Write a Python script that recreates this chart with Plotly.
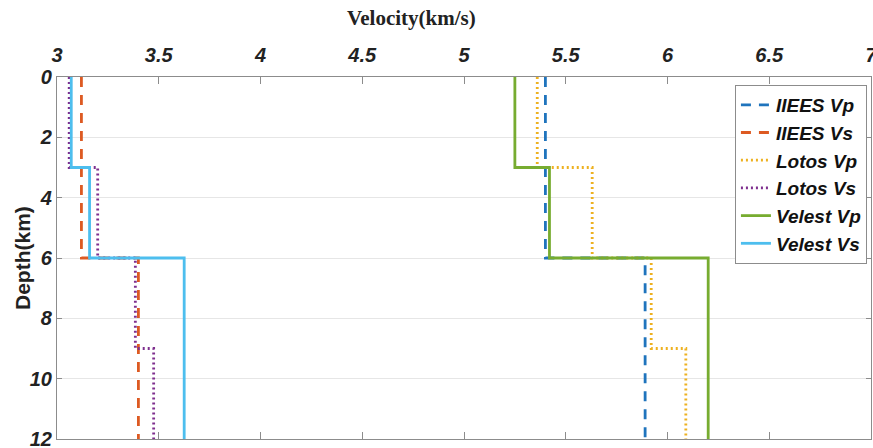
import plotly.graph_objects as go

# Layer boundaries (km) and layer velocities (km/s) for each 1-D model
iiees_depths = [0, 6, 12]
iiees_vp = [5.40, 5.89]
iiees_vs = [3.12, 3.40]

lotos_depths = [0, 3, 6, 9, 12]
lotos_vp = [5.36, 5.63, 5.92, 6.09]
lotos_vs = [3.06, 3.20, 3.385, 3.475]

velest_depths = [0, 3, 6, 12]
velest_vp = [5.25, 5.42, 6.20]
velest_vs = [3.07, 3.16, 3.625]

x_ticks = [3, 3.5, 4, 4.5, 5, 5.5, 6, 6.5, 7]
x_tick_text = ["3", "3.5", "4", "4.5", "5", "5.5", "6", "6.5", "7"]
y_ticks = [0, 2, 4, 6, 8, 10, 12]

TICK_FONT = "Liberation Sans Narrow, Arial Narrow, Liberation Sans, Arial, sans-serif"


def step_profile(depths, velocities):
    """Turn layer tops/bottoms and layer velocities into a staircase profile."""
    xs, ys = [], []
    for i, v in enumerate(velocities):
        xs += [v, v]
        ys += [depths[i], depths[i + 1]]
    return xs, ys


series = [
    ("IIEES Vp", iiees_depths, iiees_vp, "#1f74bd", "10px,8px"),
    ("IIEES Vs", iiees_depths, iiees_vs, "#dd5a22", "10px,8px"),
    ("Lotos Vp", lotos_depths, lotos_vp, "#edb120", "2px,3px"),
    ("Lotos Vs", lotos_depths, lotos_vs, "#7e2f8e", "2px,3px"),
    ("Velest Vp", velest_depths, velest_vp, "#77ac30", "solid"),
    ("Velest Vs", velest_depths, velest_vs, "#4dbeee", "solid"),
]

fig = go.Figure()
for name, depths, vel, color, dash in series:
    xs, ys = step_profile(depths, vel)
    fig.add_trace(go.Scatter(
        x=xs, y=ys, mode="lines", name=name,
        line=dict(color=color, width=2.8, dash=dash),
    ))

tick_font = dict(family=TICK_FONT, size=20, color="#222222",
                 style="italic", weight="bold")

fig.update_layout(
    width=873, height=448,
    margin=dict(l=57, r=2, t=77, b=9, autoexpand=False),
    plot_bgcolor="white", paper_bgcolor="white",
    showlegend=True,
    legend=dict(
        x=0.995, y=0.978, xanchor="right", yanchor="top",
        bgcolor="white", bordercolor="#8c8c8c", borderwidth=1,
        font=dict(family=TICK_FONT, size=19, color="#111111",
                  style="italic", weight="bold"),
        tracegroupgap=0,
    ),
    xaxis=dict(
        side="top", range=[3, 7], automargin=False,
        tickvals=x_ticks, ticktext=x_tick_text,
        ticks="inside", ticklen=7, tickcolor="#8c8c8c",
        showline=True, linecolor="#8c8c8c", linewidth=1.2, mirror="ticks",
        showgrid=False, zeroline=False,
        ticklabelstandoff=6, ticklabeloverflow="allow",
        tickfont=tick_font,
    ),
    yaxis=dict(
        range=[12, 0], tickvals=y_ticks, automargin=False,
        ticks="inside", ticklen=5, tickcolor="#8c8c8c",
        showline=True, linecolor="#8c8c8c", linewidth=1.2, mirror="ticks",
        showgrid=True, gridcolor="#e6e6e6", gridwidth=1, zeroline=False,
        ticklabeloverflow="allow",
        tickfont=tick_font,
    ),
    annotations=[
        dict(
            text="<b>Velocity(km/s)</b>", xref="paper", yref="paper",
            x=0.436, y=1.163, xanchor="center", yanchor="middle",
            showarrow=False,
            font=dict(family="Liberation Serif, Times New Roman, serif",
                      size=21, color="#222222"),
        ),
        dict(
            text="<b>Depth(km)</b>", xref="paper", yref="paper",
            x=-0.043, y=0.5, xanchor="center", yanchor="middle",
            textangle=-90, showarrow=False,
            font=dict(family="Liberation Sans, Arial, sans-serif",
                      size=21, color="#222222"),
        ),
    ],
)

fig.write_html("out.html")
